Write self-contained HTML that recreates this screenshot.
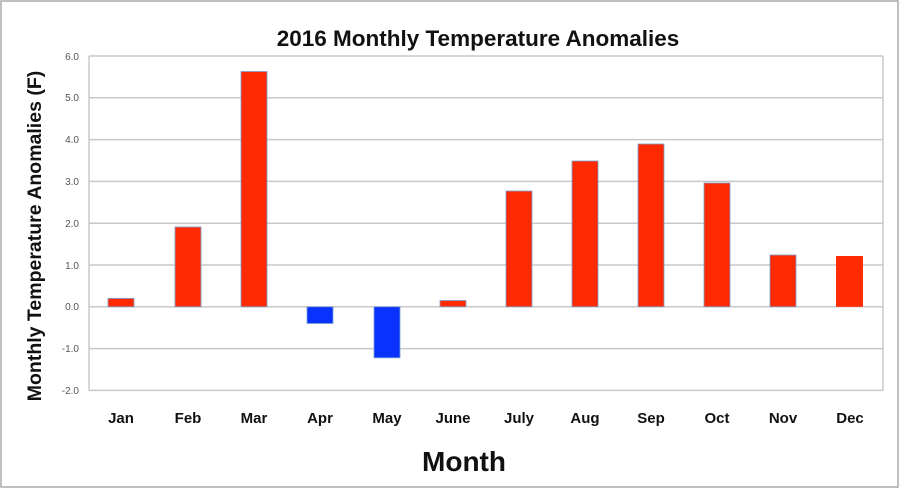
<!DOCTYPE html>
<html><head><style>body{margin:0;background:#fff}svg{display:block}</style></head><body>
<svg width="900" height="489" xmlns="http://www.w3.org/2000/svg" font-family="Liberation Sans, sans-serif">
<rect x="1" y="1" width="897" height="486" fill="#fff" stroke="#aaa" stroke-width="1.5"/>
<text x="478" y="46" font-size="22.5" font-weight="bold" text-anchor="middle" fill="#111">2016 Monthly Temperature Anomalies</text>
<g stroke="#c8c8c8" stroke-width="1.5">
<line x1="89" y1="56" x2="883" y2="56"/><line x1="89" y1="97.8" x2="883" y2="97.8"/>
<line x1="89" y1="139.6" x2="883" y2="139.6"/><line x1="89" y1="181.4" x2="883" y2="181.4"/>
<line x1="89" y1="223.2" x2="883" y2="223.2"/><line x1="89" y1="265" x2="883" y2="265"/>
<line x1="89" y1="306.8" x2="883" y2="306.8"/><line x1="89" y1="348.6" x2="883" y2="348.6"/>
<line x1="89" y1="390.4" x2="883" y2="390.4"/>
<line x1="89" y1="56" x2="89" y2="390.4"/><line x1="883" y1="56" x2="883" y2="390.4"/>
</g>
<g font-size="10" fill="#555" text-anchor="end">
<text x="79" y="60">6.0</text><text x="79" y="101">5.0</text><text x="79" y="143">4.0</text>
<text x="79" y="185">3.0</text><text x="79" y="227">2.0</text><text x="79" y="269">1.0</text>
<text x="79" y="310">0.0</text><text x="79" y="352">-1.0</text><text x="79" y="394">-2.0</text>
</g>
<g stroke="#7a9fd0" stroke-width="0.8">
<rect x="108" y="298.4" width="26" height="8.4" fill="#ff2a00"/>
<rect x="175" y="227" width="26" height="79.8" fill="#ff2a00"/>
<rect x="241" y="71.5" width="26" height="235.3" fill="#ff2a00"/>
<rect x="307" y="306.8" width="26" height="16.7" fill="#0a32ff"/>
<rect x="374" y="306.8" width="26" height="51" fill="#0a32ff"/>
<rect x="440" y="300.5" width="26" height="6.3" fill="#ff2a00"/>
<rect x="506" y="191" width="26" height="115.8" fill="#ff2a00"/>
<rect x="572" y="161" width="26" height="145.8" fill="#ff2a00"/>
<rect x="638" y="144" width="26" height="162.8" fill="#ff2a00"/>
<rect x="704" y="183" width="26" height="123.8" fill="#ff2a00"/>
<rect x="770" y="255" width="26" height="51.8" fill="#ff2a00"/>
<rect x="836" y="256" width="27" height="50.8" fill="#ff2a00" stroke="none"/>
</g>
<g font-size="15" font-weight="bold" fill="#111" text-anchor="middle">
<text x="121" y="423">Jan</text><text x="188" y="423">Feb</text><text x="254" y="423">Mar</text>
<text x="320" y="423">Apr</text><text x="387" y="423">May</text><text x="453" y="423">June</text>
<text x="519" y="423">July</text><text x="585" y="423">Aug</text><text x="651" y="423">Sep</text>
<text x="717" y="423">Oct</text><text x="783" y="423">Nov</text><text x="850" y="423">Dec</text>
</g>
<text x="464" y="471" font-size="28" font-weight="bold" text-anchor="middle" fill="#111">Month</text>
<text transform="translate(41,236) rotate(-90)" font-size="19.5" font-weight="bold" text-anchor="middle" fill="#111">Monthly Temperature Anomalies (F)</text>
</svg>
</body></html>
